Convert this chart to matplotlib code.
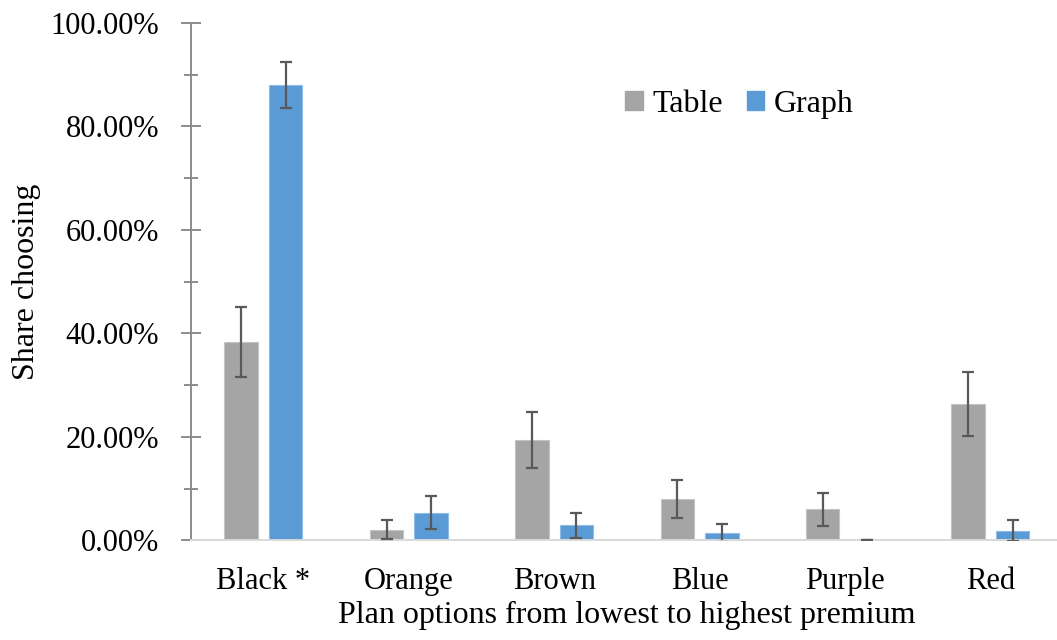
import numpy as np
import matplotlib
matplotlib.use('Agg')
import matplotlib.pyplot as plt
from matplotlib.patches import Patch
from matplotlib.ticker import MultipleLocator, FuncFormatter

plans = ["Black *", "Orange", "Brown", "Blue", "Purple", "Red"]
table_share = [0.384, 0.021, 0.195, 0.080, 0.060, 0.264]
table_err = [0.068, 0.018, 0.054, 0.037, 0.032, 0.062]
graph_share = [0.880, 0.054, 0.029, 0.014, 0.0, 0.019]
graph_err = [0.045, 0.031, 0.024, 0.017, 0.0, 0.020]

plt.rcParams['font.family'] = ['Liberation Serif', 'DejaVu Serif']
fs = 22
fs_title = 23

fig = plt.figure(figsize=(10.57, 6.4), dpi=100)
ax = fig.add_axes([0.1804, 0.1555, 0.8254, 0.8086])

x = np.arange(len(plans))
w = 0.23
off = 0.153
ekw = dict(ecolor='#595959', elinewidth=1.6, capsize=4.5, capthick=1.6, zorder=4)
ax.bar(x - off, table_share, w, color='#a5a5a5', edgecolor='#c4c4c4', linewidth=0.8,
       yerr=table_err, error_kw=ekw, zorder=2)
ax.bar(x + off, graph_share, w, color='#5b9bd5', edgecolor='#8fbbe4', linewidth=0.8,
       yerr=graph_err, error_kw=ekw, zorder=2)

ax.set_xlim(-0.5, len(plans) - 0.5)
ax.set_ylim(0, 1.0)
ax.yaxis.set_major_locator(MultipleLocator(0.2))
ax.yaxis.set_minor_locator(MultipleLocator(0.1))
ax.yaxis.set_major_formatter(FuncFormatter(lambda v, p: "{:.2f}%".format(v * 100)))
ax.set_xticks(x)
ax.set_xticklabels(plans)

for s in ['top', 'right']:
    ax.spines[s].set_visible(False)
ax.spines['left'].set_color('#8c8c8c')
ax.spines['left'].set_linewidth(1.4)
ax.spines['bottom'].set_color('#d9d9d9')
ax.spines['bottom'].set_linewidth(1.4)

ax.tick_params(axis='y', which='major', direction='inout', length=13.7, width=1.4,
               color='#8c8c8c', labelsize=fs, pad=16)
ax.tick_params(axis='y', which='minor', direction='inout', length=10, width=1.4,
               color='#8c8c8c')
ax.tick_params(axis='x', length=0, labelsize=fs, pad=19)

ax.set_xlabel("Plan options from lowest to highest premium", fontsize=fs_title, labelpad=4)
ax.set_ylabel("Share choosing", fontsize=fs_title, labelpad=7)

handles = [Patch(color='#a5a5a5', label='Table'), Patch(color='#5b9bd5', label='Graph')]
ax.legend(handles=handles, loc='center', bbox_to_anchor=(0.629, 0.843), ncol=2,
          frameon=False, fontsize=fs_title, handlelength=0.55, handleheight=0.55,
          handletextpad=0.3, columnspacing=0.75)

fig.savefig("out.png", dpi=100)
